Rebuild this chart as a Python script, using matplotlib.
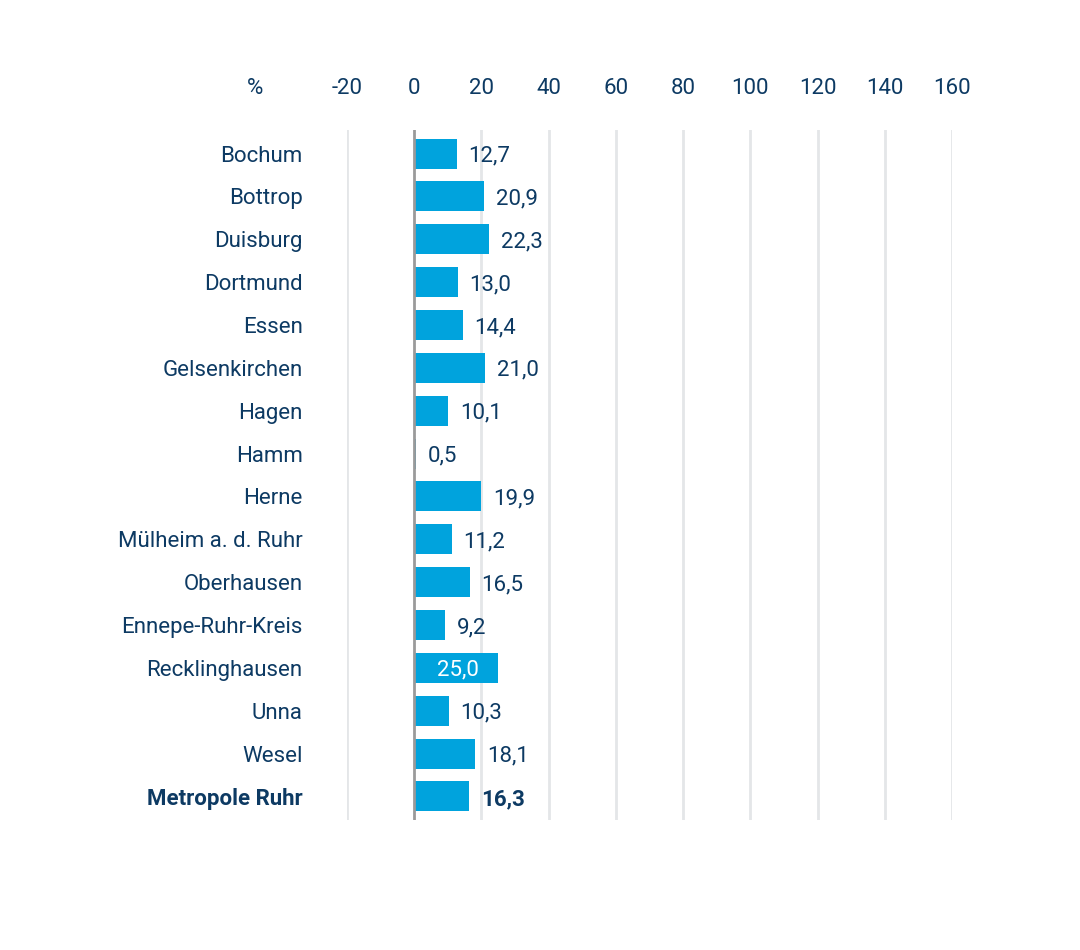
import matplotlib
matplotlib.use("Agg")
import matplotlib.pyplot as plt

cities = ["Bochum","Bottrop","Duisburg","Dortmund","Essen","Gelsenkirchen","Hagen","Hamm",
          "Herne","Mülheim a. d. Ruhr","Oberhausen","Ennepe-Ruhr-Kreis","Recklinghausen",
          "Unna","Wesel","Metropole Ruhr"]
values = [12.7,20.9,22.3,13.0,14.4,21.0,10.1,0.5,19.9,11.2,16.5,9.2,25.0,10.3,18.1,16.3]
ticks = [-20,0,20,40,60,80,100,120,140,160]

navy = "#0d3a63"
blue = "#00a3dd"
plt.rcParams['font.family'] = ['Roboto', 'DejaVu Sans']

fig = plt.figure(figsize=(10.8, 9.5), dpi=100)
ax = fig.add_axes([347/1080, 1-820/950, (952-347)/1080, (820-130)/950])
y = list(range(len(cities)))
ax.barh(y, values, height=0.7, color=blue, zorder=3)
ax.set_ylim(len(cities)-0.5+0.05, -0.5-0.05)
ax.set_xlim(-20, 160)
for t in ticks:
    ax.axvline(t, color="#9a9a9a" if t == 0 else "#e4e6e8", lw=2, zorder=4 if t == 0 else 1)
ax.set_xticks(ticks)
ax.set_xticklabels([str(t) for t in ticks])
ax.xaxis.tick_top()
ax.tick_params(axis='x', length=0, pad=22, labelsize=16, labelcolor=navy)
ax.set_yticks(y)
ax.set_yticklabels(cities)
ax.tick_params(axis='y', length=0, pad=32, labelsize=16, labelcolor=navy)
for lbl in ax.get_yticklabels():
    lbl.set_verticalalignment('center_baseline')
ax.get_yticklabels()[-1].set_fontweight('bold')
for s in ax.spines.values():
    s.set_visible(False)
for i, v in enumerate(values):
    txt = f"{v:.1f}".replace(".", ",")
    bold = 'bold' if i == len(values)-1 else 'normal'
    if cities[i] == "Recklinghausen":
        ax.text(v/2+0.5, i, txt, color="white", va='center_baseline', ha='center', fontsize=16, zorder=5)
    else:
        ax.text(v + 3.5, i, txt, color=navy, va='center_baseline', ha='left', fontsize=16, fontweight=bold, zorder=5)
fig.text(255/1080, 1-86/950, "%", color=navy, fontsize=16, ha='center', va='center_baseline')
fig.savefig("out.png", dpi=100, facecolor="white")
